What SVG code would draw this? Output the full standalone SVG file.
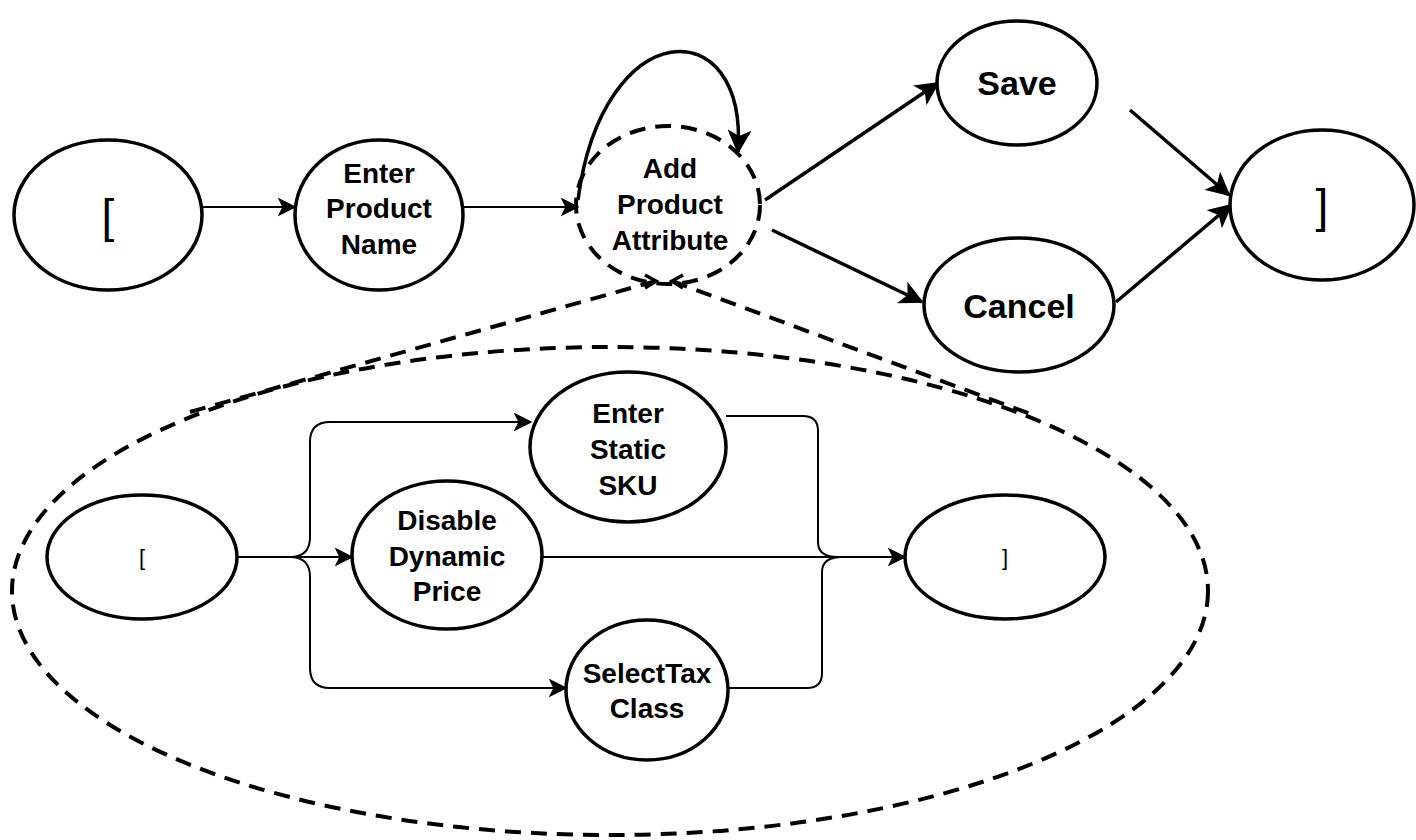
<svg xmlns="http://www.w3.org/2000/svg" width="1416" height="840" viewBox="0 0 1416 840">
  <defs>
    <marker id="arrBig" viewBox="0 0 12 12" refX="11" refY="6" markerWidth="24" markerHeight="24" markerUnits="userSpaceOnUse" orient="auto">
      <path d="M0,0 L12,6 L0,12 L3,6 z" fill="#000"/>
    </marker>
    <marker id="arrThin" viewBox="0 0 12 12" refX="11" refY="6" markerWidth="19" markerHeight="19" markerUnits="userSpaceOnUse" orient="auto">
      <path d="M0,0 L12,6 L0,12 L3,6 z" fill="#000"/>
    </marker>
  </defs>
  <style>
    .node { fill: #fff; stroke: #000; stroke-width: 3.5; }
    .dash { fill: none; stroke: #000; stroke-width: 4; stroke-dasharray: 16 10; }
    .thin { fill: none; stroke: #000; stroke-width: 2; }
    .thick { fill: none; stroke: #000; stroke-width: 3.5; }
    .lbl { font-family: "Liberation Sans", Arial, sans-serif; font-weight: bold; font-size: 28px; text-anchor: middle; fill: #000; }
    .big { font-size: 34px; }
    .brk { font-family: "Liberation Sans", Arial, sans-serif; text-anchor: middle; fill: #000; }
  </style>
  <rect width="1416" height="840" fill="#fff"/>

  <!-- enlarged view of the attribute sub-flow -->
  <g id="subflow-frame">
    <ellipse class="dash" cx="610" cy="591" rx="598" ry="244"/>
    <path class="dash" d="M656,281 L190,412"/>
    <path class="dash" d="M672,281 L1036,416"/>
    <path d="M645,275 L656,281 L645,288" fill="none" stroke="#000" stroke-width="3.5"/>
    <path d="M683,275 L672,281 L683,288" fill="none" stroke="#000" stroke-width="3.5"/>
  </g>

  <g id="connectors">
    <path class="thin" d="M202,207 L295,207" marker-end="url(#arrThin)"/>
    <path class="thin" d="M463,207 L578,207" marker-end="url(#arrThin)"/>
    <path class="thick" d="M578,200 C602,14 748,8 738,152" marker-end="url(#arrBig)"/>
    <path class="thick" d="M765,200 L938,83" marker-end="url(#arrBig)"/>
    <path class="thick" d="M772,230 L922,302" marker-end="url(#arrBig)"/>
    <path class="thick" d="M1130,110 L1229,195" marker-end="url(#arrBig)"/>
    <path class="thick" d="M1116,302 L1231,205" marker-end="url(#arrBig)"/>

    <path class="thin" d="M237,557 L352,557" marker-end="url(#arrThin)"/>
    <path class="thin" d="M237,557 L290,557 Q310,557 310,537 L310,442 Q310,422 330,422 L531,422" marker-end="url(#arrThin)"/>
    <path class="thin" d="M290,557 Q310,557 310,577 L310,668 Q310,688 330,688 L566,688" marker-end="url(#arrThin)"/>
    <path class="thin" d="M542,557 L905,557" marker-end="url(#arrThin)"/>
    <path class="thin" d="M726,416 L803,416 Q818,416 818,431 L818,542 Q818,557 838,557"/>
    <path class="thin" d="M728,688 L807,688 Q822,688 822,673 L822,572 Q822,557 842,557"/>
  </g>

  <g id="start">
    <ellipse class="node" cx="108" cy="215" rx="94" ry="75"/>
    <text class="brk" x="108" y="232" font-size="46">[</text>
  </g>
  <g id="enter-product-name">
    <ellipse class="node" cx="379" cy="215" rx="84" ry="75"/>
    <text class="lbl" x="379" y="183">Enter</text>
    <text class="lbl" x="379" y="218">Product</text>
    <text class="lbl" x="379" y="254">Name</text>
  </g>
  <g id="add-product-attribute">
    <ellipse class="dash" cx="668" cy="205" rx="92" ry="79" fill="#fff"/>
    <text class="lbl" x="670" y="178">Add</text>
    <text class="lbl" x="670" y="214">Product</text>
    <text class="lbl" x="670" y="250">Attribute</text>
  </g>
  <g id="save">
    <ellipse class="node" cx="1017" cy="83" rx="80" ry="62"/>
    <text class="lbl big" x="1017" y="95">Save</text>
  </g>
  <g id="cancel">
    <ellipse class="node" cx="1019" cy="305" rx="95" ry="67"/>
    <text class="lbl big" x="1019" y="318">Cancel</text>
  </g>
  <g id="end">
    <ellipse class="node" cx="1322" cy="205" rx="92" ry="75"/>
    <text class="brk" x="1322" y="222" font-size="46">]</text>
  </g>

  <g id="sub-start">
    <ellipse class="node" cx="142" cy="557" rx="95" ry="62"/>
    <text class="brk" x="142" y="565" font-size="22">[</text>
  </g>
  <g id="enter-static-sku">
    <ellipse class="node" cx="628" cy="447" rx="98" ry="75"/>
    <text class="lbl" x="628" y="423">Enter</text>
    <text class="lbl" x="628" y="459">Static</text>
    <text class="lbl" x="628" y="495">SKU</text>
  </g>
  <g id="disable-dynamic-price">
    <ellipse class="node" cx="447" cy="555" rx="95" ry="74"/>
    <text class="lbl" x="447" y="530">Disable</text>
    <text class="lbl" x="447" y="566">Dynamic</text>
    <text class="lbl" x="447" y="601">Price</text>
  </g>
  <g id="select-tax-class">
    <ellipse class="node" cx="647" cy="690" rx="81" ry="70"/>
    <text class="lbl" x="647" y="683">SelectTax</text>
    <text class="lbl" x="647" y="718">Class</text>
  </g>
  <g id="sub-end">
    <ellipse class="node" cx="1005" cy="557" rx="100" ry="62"/>
    <text class="brk" x="1005" y="565" font-size="22">]</text>
  </g>
</svg>
